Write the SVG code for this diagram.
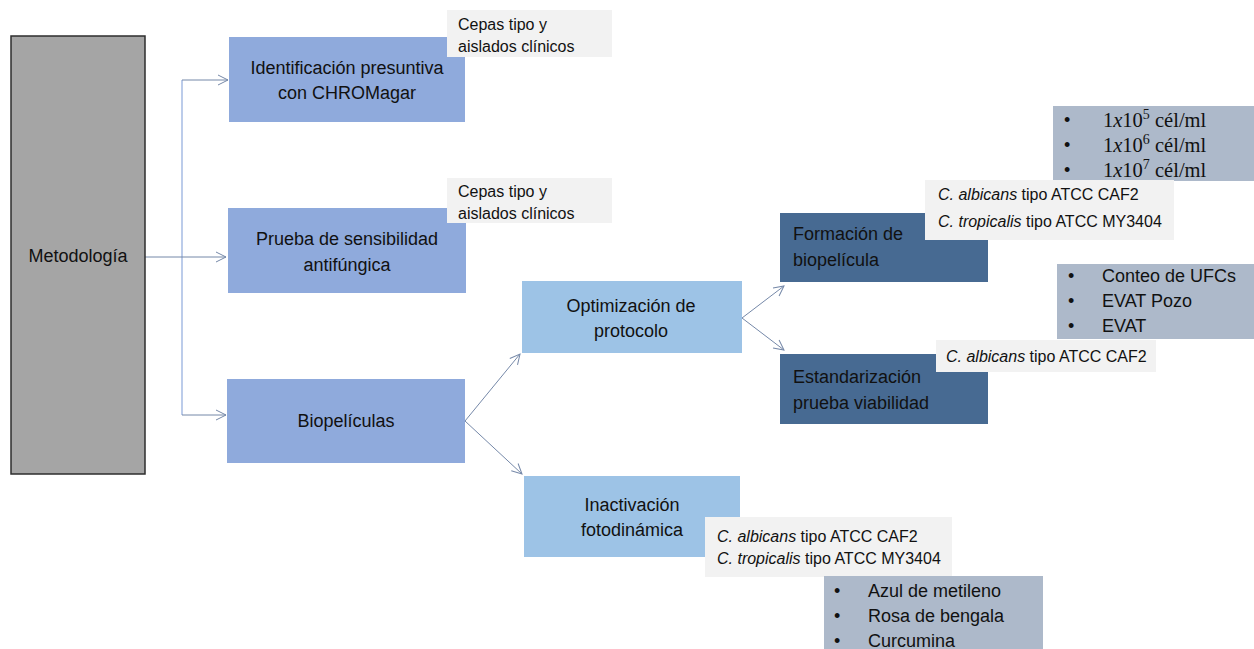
<svg xmlns="http://www.w3.org/2000/svg" width="1254" height="649" viewBox="0 0 1254 649">
<defs>
<marker id="arr" markerWidth="12" markerHeight="12" refX="11" refY="6" orient="auto" markerUnits="userSpaceOnUse">
<path d="M1,1 L11,6 L1,11" fill="none" stroke="#7588a8" stroke-width="1"/>
</marker>
<style>
.t{font-family:"Liberation Sans",Arial,sans-serif;font-size:18px;fill:#111;}
.c{text-anchor:middle;}
.lb{font-family:"Liberation Sans",Arial,sans-serif;font-size:16px;fill:#111;}
.ls{font-family:"Liberation Serif","Times New Roman",serif;font-size:20.5px;fill:#111;}
.mid{fill:#8faadc;}
.light{fill:#9dc3e6;}
.dark{fill:#476a92;}
.note{fill:#f2f2f2;}
.list{fill:#adb9ca;}
.ln{fill:none;stroke:#7588a8;stroke-width:1;}
.tr{fill:none;stroke:#8faadc;stroke-width:1.2;}
</style>
</defs>
<rect width="1254" height="649" fill="#ffffff"/>

<g id="connectors">
<path class="tr" d="M182,80 L182,415"/>
<path class="ln" d="M182,80 L228,80" marker-end="url(#arr)"/>
<path class="ln" d="M145,257 L226,257" marker-end="url(#arr)"/>
<path class="ln" d="M182,415 L226,415" marker-end="url(#arr)"/>
<path class="ln" d="M465,421 L520,354" marker-end="url(#arr)"/>
<path class="ln" d="M465,421 L522,474" marker-end="url(#arr)"/>
<path class="ln" d="M742,318 L784,286" marker-end="url(#arr)"/>
<path class="ln" d="M742,318 L784,350" marker-end="url(#arr)"/>
</g>

<g id="metodologia">
<rect x="11" y="36" width="134" height="438" fill="#a5a5a5" stroke="#2e2e2e" stroke-width="1.5"/>
<text class="t c" x="78" y="262" font-size="19">Metodología</text>
</g>

<g id="identificacion">
<rect class="mid" x="229" y="37" width="236" height="85"/>
<text class="t c" x="347" y="74">Identificación presuntiva</text>
<text class="t c" x="347" y="99">con CHROMagar</text>
</g>
<g id="nota1">
<rect class="note" x="447" y="10" width="165" height="47"/>
<text class="lb" x="458" y="30">Cepas tipo y</text>
<text class="lb" x="458" y="52">aislados clínicos</text>
</g>

<g id="prueba">
<rect class="mid" x="228" y="208" width="238" height="85"/>
<text class="t c" x="347" y="245">Prueba de sensibilidad</text>
<text class="t c" x="347" y="271">antifúngica</text>
</g>
<g id="nota2">
<rect class="note" x="447" y="178" width="165" height="45"/>
<text class="lb" x="458" y="197">Cepas tipo y</text>
<text class="lb" x="458" y="219">aislados clínicos</text>
</g>

<g id="biopeliculas">
<rect class="mid" x="227" y="379" width="238" height="84"/>
<text class="t c" x="346" y="427">Biopelículas</text>
</g>

<g id="optimizacion">
<rect class="light" x="522" y="281" width="220" height="72"/>
<text class="t c" x="631" y="312">Optimización de</text>
<text class="t c" x="631" y="337">protocolo</text>
</g>

<g id="inactivacion">
<rect class="light" x="524" y="476" width="216" height="81"/>
<text class="t c" x="632" y="511">Inactivación</text>
<text class="t c" x="632" y="536">fotodinámica</text>
</g>
<g id="nota-inactivacion">
<rect class="note" x="705" y="517" width="247" height="60"/>
<text class="lb" x="717" y="542"><tspan font-style="italic">C. albicans</tspan> tipo ATCC CAF2</text>
<text class="lb" x="717" y="564"><tspan font-style="italic">C. tropicalis</tspan> tipo ATCC MY3404</text>
</g>
<g id="lista-fotosensibilizadores">
<rect class="list" x="824" y="576" width="219" height="80"/>
<text class="t" x="834" y="597">•</text>
<text class="t" x="868" y="597">Azul de metileno</text>
<text class="t" x="834" y="622">•</text>
<text class="t" x="868" y="622">Rosa de bengala</text>
<text class="t" x="834" y="647">•</text>
<text class="t" x="868" y="647">Curcumina</text>
</g>

<g id="formacion">
<rect class="dark" x="780" y="213" width="208" height="69"/>
<text class="t" x="793" y="240">Formación de</text>
<text class="t" x="793" y="266">biopelícula</text>
</g>
<g id="lista-concentraciones">
<rect class="list" x="1053" y="106" width="201" height="75"/>
<text class="t" x="1064" y="126">•</text>
<text class="ls" x="1103" y="127">1<tspan font-style="italic">x</tspan>10<tspan font-size="14" dy="-8">5</tspan><tspan dy="8"> cél/ml</tspan></text>
<text class="t" x="1064" y="151">•</text>
<text class="ls" x="1103" y="152">1<tspan font-style="italic">x</tspan>10<tspan font-size="14" dy="-8">6</tspan><tspan dy="8"> cél/ml</tspan></text>
<text class="t" x="1064" y="176">•</text>
<text class="ls" x="1103" y="177">1<tspan font-style="italic">x</tspan>10<tspan font-size="14" dy="-8">7</tspan><tspan dy="8"> cél/ml</tspan></text>
</g>
<g id="nota-formacion">
<rect class="note" x="925" y="180" width="249" height="60"/>
<text class="lb" x="938" y="200"><tspan font-style="italic">C. albicans</tspan> tipo ATCC CAF2</text>
<text class="lb" x="938" y="227"><tspan font-style="italic">C. tropicalis</tspan> tipo ATCC MY3404</text>
</g>

<g id="estandarizacion">
<rect class="dark" x="780" y="354" width="208" height="70"/>
<text class="t" x="793" y="383">Estandarización</text>
<text class="t" x="793" y="409">prueba viabilidad</text>
</g>
<g id="lista-viabilidad">
<rect class="list" x="1057" y="264" width="197" height="75"/>
<text class="t" x="1068" y="282">•</text>
<text class="t" x="1102" y="282">Conteo de UFCs</text>
<text class="t" x="1068" y="307">•</text>
<text class="t" x="1102" y="307">EVAT Pozo</text>
<text class="t" x="1068" y="332">•</text>
<text class="t" x="1102" y="332">EVAT</text>
</g>
<g id="nota-estandarizacion">
<rect class="note" x="936" y="340" width="220" height="32"/>
<text class="lb" x="946" y="362"><tspan font-style="italic">C. albicans</tspan> tipo ATCC CAF2</text>
</g>
</svg>
